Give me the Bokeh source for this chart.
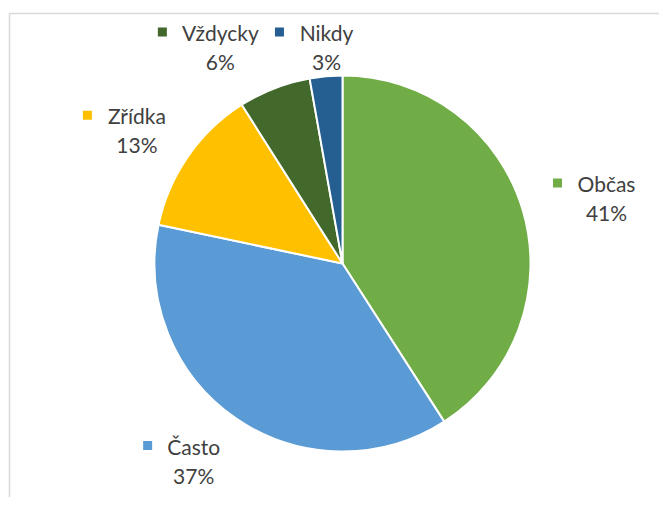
import math
from bokeh.plotting import figure
from bokeh.models import Range1d, ColumnDataSource
from bokeh.embed import file_html
from bokeh.resources import INLINE
from bokeh.core.properties import value

# ---- data ----
categories = ["Občas", "Často", "Zřídka", "Vždycky", "Nikdy"]
shares = [40.9, 37.4, 12.7, 6.2, 2.8]
colors = ["#70AD47", "#5B9BD5", "#FFC000", "#43682B", "#255E91"]

# ---- layout (pixels) ----
W, H = 659, 497
CX, CY, R = 342, 263, 188          # pie centre / radius in pixels
LABEL_SHIFT_DEG = [2.45, 2.5, -1.8, -8.2, 0.8]
LABEL_DIST = [272, 247, 245, 248.5, 217]
NAME_W = [58, 52, 59, 76, 54]        # approx rendered width of the names
LINE_GAP = 29
FONT = "Lato"
FS = "21px"
TXT = "#404040"


def X(px):
    return px


def Y(py):
    return H - py


total = sum(shares)
starts, ends, mids = [], [], []
cum = 0.0
for s in shares:
    a0 = cum / total * 2 * math.pi
    cum += s
    a1 = cum / total * 2 * math.pi
    starts.append(math.pi / 2 - a0)
    ends.append(math.pi / 2 - a1)
    mids.append((a0 + a1) / 2)

src = ColumnDataSource(dict(start=starts, end=ends, color=colors, cat=categories))

p = figure(width=W, height=H, output_backend="svg", toolbar_location=None,
           x_range=Range1d(0, W), y_range=Range1d(0, H), min_border=0)
p.axis.visible = False
p.grid.visible = False
p.outline_line_color = None
p.background_fill_color = "white"
p.border_fill_color = "white"

# chart frame (top and left edges visible)
p.line([X(9), W], [Y(13), Y(13)], line_color="#D9D9D9", line_width=1.5)
p.line([X(9), X(9)], [0, Y(13)], line_color="#D9D9D9", line_width=1.5)

p.wedge(x=X(CX), y=Y(CY), radius=R, start_angle="start", end_angle="end",
        direction="clock", fill_color="color", line_color="white",
        line_width=2, source=src)

name_x, name_y, pct_x, pct_y, pct_txt, mk_x, mk_y = [], [], [], [], [], [], []
for i, s in enumerate(shares):
    th = mids[i] + math.radians(LABEL_SHIFT_DEG[i])
    ax = CX + LABEL_DIST[i] * math.sin(th)
    ay = CY - LABEL_DIST[i] * math.cos(th)
    name_x.append(X(ax))
    name_y.append(Y(ay - LINE_GAP / 2))
    pct_x.append(X(ax))
    pct_y.append(Y(ay + LINE_GAP / 2))
    pct_txt.append(f"{round(s / total * 100)}%")
    mk_x.append(X(ax - NAME_W[i] / 2 - 20))
    mk_y.append(Y(ay - LINE_GAP / 2 - 0.5))

lab = ColumnDataSource(dict(nx=name_x, ny=name_y, px=pct_x, py=pct_y,
                            pt=pct_txt, mx=mk_x, my=mk_y, cat=categories,
                            color=colors))
p.text(x="nx", y="ny", text="cat", source=lab, text_align="center",
       text_baseline="middle", text_font=value(FONT), text_font_size=FS,
       text_color=TXT)
p.text(x="px", y="py", text="pt", source=lab, text_align="center",
       text_baseline="middle", text_font=value(FONT), text_font_size=FS,
       text_color=TXT)
p.scatter(x="mx", y="my", marker="square", size=9, fill_color="color",
          line_color=None, source=lab)

open("out.html", "w").write(file_html(p, INLINE))
